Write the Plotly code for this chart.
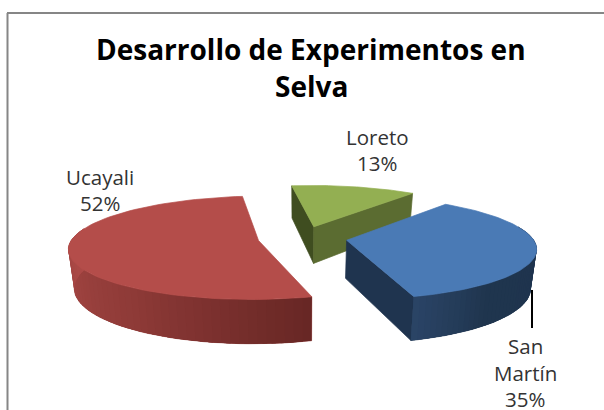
import numpy as np
import plotly.graph_objects as go

# Data
categories = ["Loreto", "San Martín", "Ucayali"]
shares = [12.6, 35.0, 52.4]
title_lines = ["Desarrollo de Experimentos en", "Selva"]
category_lines = [["Loreto"], ["San", "Martín"], ["Ucayali"]]

# Style
top_colors = ["#93AF52", "#4A7AB5", "#B44D4A"]
edge_walls = {0: ("#3F4D20", "#5B6C31"), 1: (None, "#1F344F"), 2: (None, None)}
arc_shade = {
    1: [(74, "#1E324E"), (140, "#20364F"), (166, "#2C4669")],
    2: [(162, "#662624"), (215, "#8F3B38"), (284, "#B04C49")],
}
label_anchor = {0: (377, 150), 1: (525, 372.5), 2: (100, 190)}

# Projection settings
FIRST_ANGLE = -7.5
CX, CY, A, B, K, H, EXPLODE, FLOOR_SHRINK = 302.5, 238.0, 186.0, 50.0, 0.14, 37.8, 0.24, 0.025


def project(X, Y, drop=0.0):
    d = 1 + K * Y
    return CX + A * X / d * (1 - FLOOR_SHRINK * drop), CY - B * Y / d + drop * H / d


def hex_rgb(c):
    return np.array([int(c[i:i + 2], 16) for i in (1, 3, 5)], float)


def shade(stops, ang):
    angs = [s[0] for s in stops]
    cols = np.array([hex_rgb(s[1]) for s in stops])
    rgb = [np.interp(ang, angs, cols[:, i]) for i in range(3)]
    return "rgb(%d,%d,%d)" % tuple(rgb)


def poly(x, y, color, width=0.7):
    return go.Scatter(x=list(x) + [x[0]], y=list(y) + [y[0]], mode="lines", fill="toself",
                      fillcolor=color, line=dict(color=color, width=width),
                      hoverinfo="skip", showlegend=False)


fig = go.Figure()
total = sum(shares)
spans = []
start = FIRST_ANGLE
for s in shares:
    end = start + 360 * s / total
    spans.append((start, end))
    start = end


def world(i, ang):
    s, e = spans[i]
    mid = np.radians((s + e) / 2)
    t = np.radians(ang)
    return EXPLODE * np.sin(mid) + np.sin(t), EXPLODE * np.cos(mid) + np.cos(t)


def apex(i):
    s, e = spans[i]
    mid = np.radians((s + e) / 2)
    return EXPLODE * np.sin(mid), EXPLODE * np.cos(mid)


def wall(P, Q, color):
    corners = [project(*P), project(*Q), project(*Q, 1), project(*P, 1)]
    fig.add_trace(poly([c[0] for c in corners], [c[1] for c in corners], color))


for i in [0, 2, 1]:
    s, e = spans[i]
    ax, ay = apex(i)
    left_col, right_col = edge_walls[i]
    if left_col:
        wall((ax, ay), world(i, s), left_col)
    if right_col:
        wall((ax, ay), world(i, e), right_col)
    # outer rim in overlapping strips, painted so each one covers the seam of the last
    if i in arc_shade:
        lo = max(s, arc_shade[i][0][0])
        hi = min(e, arc_shade[i][-1][0])
        angs = np.linspace(lo, hi, 50)
        step = angs[1] - angs[0]
        rim_top = [project(*world(i, a)) for a in angs]
        rim_bot = [project(*world(i, a), 1) for a in angs[::-1]]
        rim = rim_top + rim_bot
        fig.add_trace(poly([p[0] for p in rim], [p[1] for p in rim],
                           shade(arc_shade[i], (lo + hi) / 2), width=0.5))
        for a0 in angs[:-1]:
            a1 = min(a0 + 2.5 * step, hi)
            W0, W1 = world(i, a0), world(i, a1)
            p0, p1 = project(*W0), project(*W1)
            q0, q1 = project(*W0, 1), project(*W1, 1)
            fig.add_trace(poly([p0[0], p1[0], q1[0], q0[0]], [p0[1], p1[1], q1[1], q0[1]],
                               shade(arc_shade[i], a0 + step / 2), width=0))
    # top face
    angs = np.linspace(s, e, 80)
    pts = [project(ax, ay)] + [project(*world(i, a)) for a in angs]
    fig.add_trace(poly([p[0] for p in pts], [p[1] for p in pts], top_colors[i]))

# leader line for the San Martín label
fig.add_shape(type="line", x0=532, x1=532, y0=290, y1=328, line=dict(color="#000000", width=2))

# Chart frame (only left and top are in view)
fig.add_shape(type="line", x0=7.5, x1=7.5, y0=13, y1=410, line=dict(color="#868686", width=2))
fig.add_shape(type="line", x0=7, x1=604, y0=13, y1=13, line=dict(color="#868686", width=2))

# Title
TITLE_FONT = dict(family="Open Sans", size=28, color="#000000", weight="bold")
fig.add_annotation(x=311, y=49, text=title_lines[0], showarrow=False, font=TITLE_FONT)
fig.add_annotation(x=311, y=86, text=title_lines[1], showarrow=False, font=TITLE_FONT)

# Data labels
for i, lines in enumerate(category_lines):
    pct = "%d%%" % round(100 * shares[i] / total)
    all_lines = lines + [pct]
    cx, cy = label_anchor[i]
    step = 26.5
    for j, t in enumerate(all_lines):
        fig.add_annotation(x=cx, y=cy + (j - (len(all_lines) - 1) / 2) * step, text=t, showarrow=False,
                           font=dict(family="Open Sans", size=20.5, color="#333333"))

fig.update_layout(
    width=604, height=410, margin=dict(l=0, r=0, t=0, b=0),
    paper_bgcolor="white", plot_bgcolor="white", showlegend=False,
    xaxis=dict(range=[0, 604], visible=False, fixedrange=True),
    yaxis=dict(range=[410, 0], visible=False, fixedrange=True),
)
fig.write_html("out.html", config={"displayModeBar": False},
               post_script="document.body.style.margin='0';document.documentElement.style.overflow='hidden';")
